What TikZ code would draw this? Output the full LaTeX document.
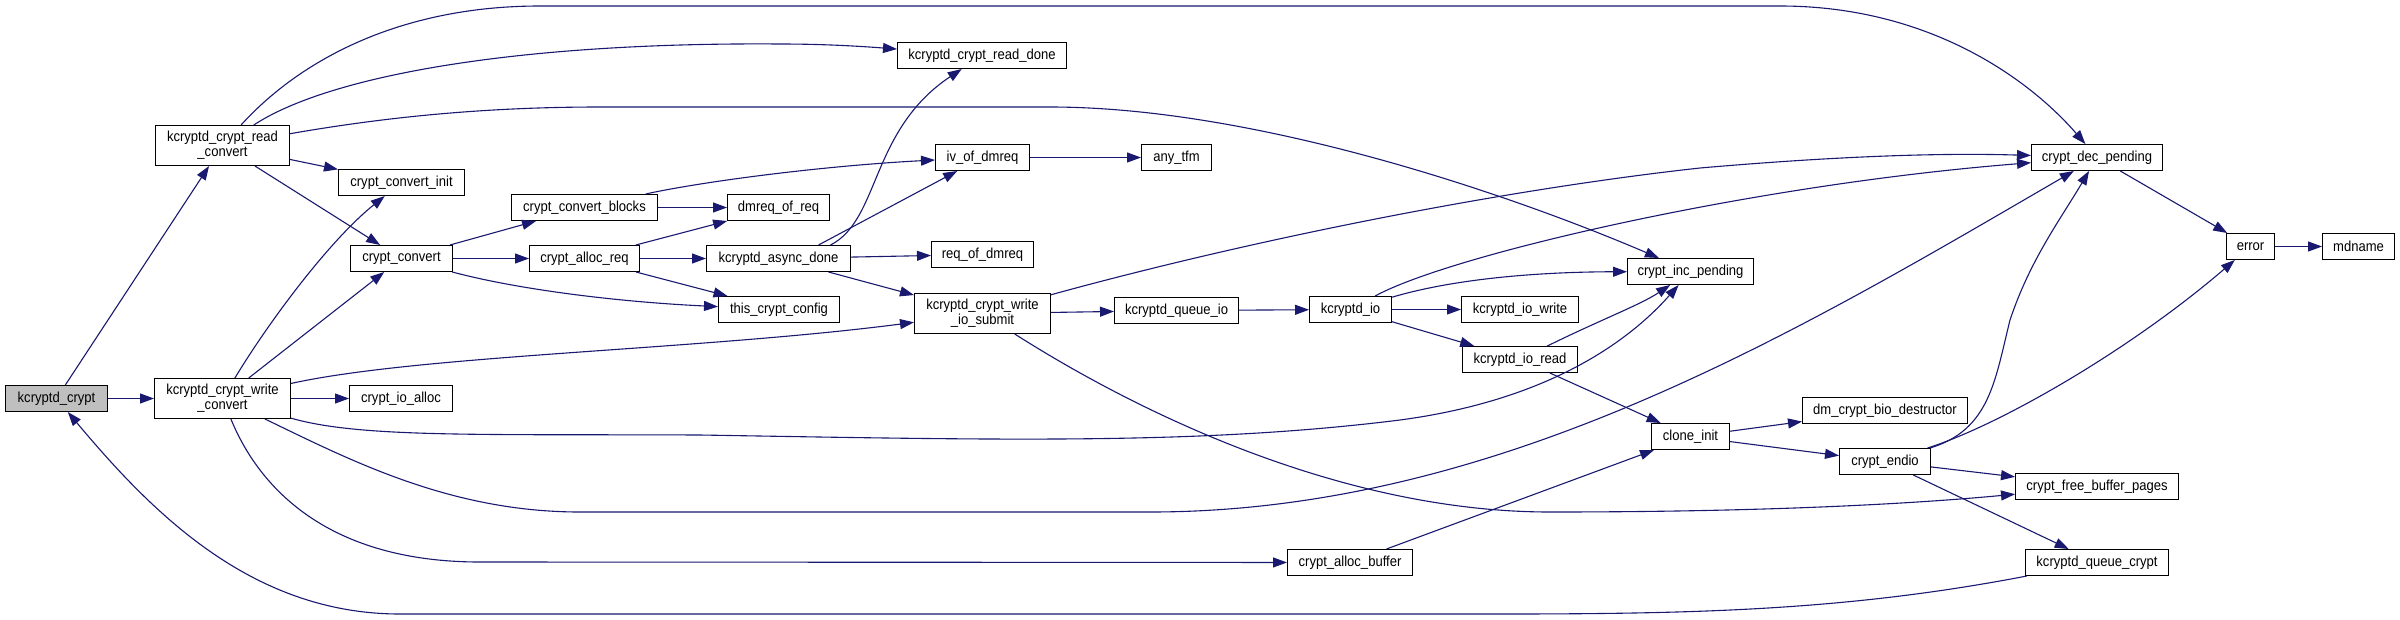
\documentclass[tikz,border=0pt]{standalone}
\usepackage{fontspec}
\setmainfont{Liberation Sans}[FakeStretch=0.9]
\usetikzlibrary{arrows.meta}
\definecolor{edgeblue}{HTML}{191970}
\definecolor{nodegray}{HTML}{BFBFBF}
\begin{document}
\begin{tikzpicture}[x=1pt,y=-1pt,
  fn/.style={draw=black, line width=1pt, fill=white, inner sep=0pt, minimum height=26pt, font=\fontsize{14.5}{15}\selectfont, align=center},
  fn2/.style={fn, minimum height=40pt},
  conn/.style={draw=edgeblue, line width=1.1pt, -{Triangle[length=14pt,width=10pt]}},
]
\fill[white] (0,0) rectangle (2400,619);
\useasboundingbox (0,0) rectangle (2400,619);

\node[fn, fill=nodegray, minimum width=102pt] (kc) at (56.5,398.5) {kcryptd\_crypt};
\node[fn2, minimum width=134pt] (rc) at (222.5,145.5) {kcryptd\_crypt\_read\\\_convert};
\node[fn2, minimum width=136pt] (wc) at (222.5,398.5) {kcryptd\_crypt\_write\\\_convert};
\node[fn, minimum width=126pt] (cci) at (401.5,182.5) {crypt\_convert\_init};
\node[fn, minimum width=102pt] (cc) at (401.5,258.5) {crypt\_convert};
\node[fn, minimum width=103pt] (cia) at (401,398.5) {crypt\_io\_alloc};
\node[fn, minimum width=146pt] (ccb) at (584.5,207.5) {crypt\_convert\_blocks};
\node[fn, minimum width=110pt] (car) at (584.5,258.5) {crypt\_alloc\_req};
\node[fn, minimum width=102pt] (dor) at (778.5,207.5) {dmreq\_of\_req};
\node[fn, minimum width=144pt] (kad) at (778.5,258.5) {kcryptd\_async\_done};
\node[fn, minimum width=121pt] (tcc) at (779,309.5) {this\_crypt\_config};
\node[fn, minimum width=169pt] (krd) at (982,55.5) {kcryptd\_crypt\_read\_done};
\node[fn, minimum width=94pt] (iod) at (982.5,157.5) {iv\_of\_dmreq};
\node[fn, minimum width=70pt] (atf) at (1176.5,157.5) {any\_tfm};
\node[fn, minimum width=102pt] (rod) at (982.5,254.5) {req\_of\_dmreq};
\node[fn2, minimum width=136pt] (wis) at (982.5,313.5) {kcryptd\_crypt\_write\\\_io\_submit};
\node[fn, minimum width=124pt] (kqi) at (1176.5,310.5) {kcryptd\_queue\_io};
\node[fn, minimum width=82pt] (kio) at (1350.5,309.5) {kcryptd\_io};
\node[fn, minimum width=117pt] (kiw) at (1520,309.5) {kcryptd\_io\_write};
\node[fn, minimum width=115pt] (kir) at (1520,359.5) {kcryptd\_io\_read};
\node[fn, minimum width=125pt] (cab) at (1350,562.5) {crypt\_alloc\_buffer};
\node[fn, minimum width=131pt] (cdp) at (2097,157.5) {crypt\_dec\_pending};
\node[fn, minimum width=126pt] (cip) at (1690.5,271.5) {crypt\_inc\_pending};
\node[fn, minimum width=48pt] (err) at (2250.5,246.5) {error};
\node[fn, minimum width=72pt] (mdn) at (2358.5,246.5) {mdname};
\node[fn, minimum width=165pt] (dbd) at (1885,410.5) {dm\_crypt\_bio\_destructor};
\node[fn, minimum width=78pt] (ci) at (1690.5,436.5) {clone\_init};
\node[fn, minimum width=91pt] (ce) at (1885,461.5) {crypt\_endio};
\node[fn, minimum width=163pt] (cfb) at (2097,486.5) {crypt\_free\_buffer\_pages};
\node[fn, minimum width=143pt] (kqc) at (2097,562.5) {kcryptd\_queue\_crypt};

% kcryptd_crypt
\draw[conn] (kc) -- (rc);
\draw[conn] (kc) -- (wc);
\draw[conn] (kqc) .. controls (1850,610) and (1700,614) .. (1500,614) -- (400,614) .. controls (250,614) and (150,510) .. (kc);

% read_convert
\draw[conn] (rc) .. controls (300,60) and (400,6) .. (540,6) -- (1780,6) .. controls (1930,6) and (2030,80) .. (cdp);
\draw[conn] (rc) .. controls (330,75) and (520,42) .. (780,44) .. controls (830,44) and (870,47) .. (krd);
\draw[conn] (rc) .. controls (380,118) and (480,107) .. (600,107) -- (1050,107) .. controls (1250,107) and (1500,190) .. (cip);
\draw[conn] (rc) -- (cci);
\draw[conn] (rc) -- (cc);

% write_convert
\draw[conn] (wc) .. controls (270,320) and (330,240) .. (cci);
\draw[conn] (wc) -- (cc);
\draw[conn] (wc) .. controls (420,355) and (700,350) .. (wis);
\draw[conn] (wc) -- (cia);
\draw[conn] (wc) .. controls (360,438) and (480,434) .. (700,435) .. controls (1000,440) and (1200,445) .. (1400,420) .. controls (1550,400) and (1630,340) .. (cip);
\draw[conn] (wc) .. controls (350,460) and (450,512) .. (580,512) -- (1150,512) .. controls (1500,512) and (1800,330) .. (cdp);
\draw[conn] (wc) .. controls (260,490) and (330,562) .. (480,562) -- (cab);

% crypt_convert
\draw[conn] (cc) -- (ccb);
\draw[conn] (cc) -- (car);
\draw[conn] (cc) .. controls (520,290) and (620,302) .. (tcc);

% crypt_alloc_req
\draw[conn] (car) -- (dor);
\draw[conn] (car) -- (kad);
\draw[conn] (car) -- (tcc);

% crypt_convert_blocks
\draw[conn] (ccb) -- (dor);
\draw[conn] (ccb) .. controls (700,182) and (820,166) .. (iod);

% kcryptd_async_done
\draw[conn] ([xshift=52pt]kad.north) .. controls (880,220) and (870,130) .. (krd);
\draw[conn] ([xshift=40pt]kad.north) -- (iod);
\draw[conn] (kad) -- (rod);
\draw[conn] (kad) -- (wis);

\draw[conn] (iod) -- (atf);

% write_io_submit
\draw[conn] (wis) .. controls (1250,240) and (1500,190) .. (1700,168) .. controls (1850,155) and (1950,153) .. (cdp);
\draw[conn] (wis) -- (kqi);
\draw[conn] (wis) .. controls (1150,420) and (1350,512) .. (1550,512) .. controls (1750,512) and (1900,505) .. (cfb);

\draw[conn] (kqi) -- (kio);

% kcryptd_io
\draw[conn] (kio) .. controls (1450,255) and (1750,185) .. (cdp);
\draw[conn] (kio) .. controls (1450,280) and (1530,272) .. (cip);
\draw[conn] (kio) -- (kiw);
\draw[conn] (kio) -- (kir);

% kcryptd_io_read
\draw[conn] (kir) .. controls (1600,320) and (1640,305) .. (cip);
\draw[conn] (kir) -- (ci);

\draw[conn] (cab) -- (ci);

% clone_init
\draw[conn] (ci) -- (dbd);
\draw[conn] (ci) -- (ce);

% crypt_endio
\draw[conn] (ce) .. controls (1990,430) and (1995,380) .. (2010,320) .. controls (2030,260) and (2060,220) .. (cdp);
\draw[conn] (ce) .. controls (2000,425) and (2130,350) .. (err);
\draw[conn] (ce) -- (cfb);
\draw[conn] (ce) -- (kqc);

\draw[conn] (cdp) -- (err);
\draw[conn] (err) -- (mdn);
\end{tikzpicture}
\end{document}
